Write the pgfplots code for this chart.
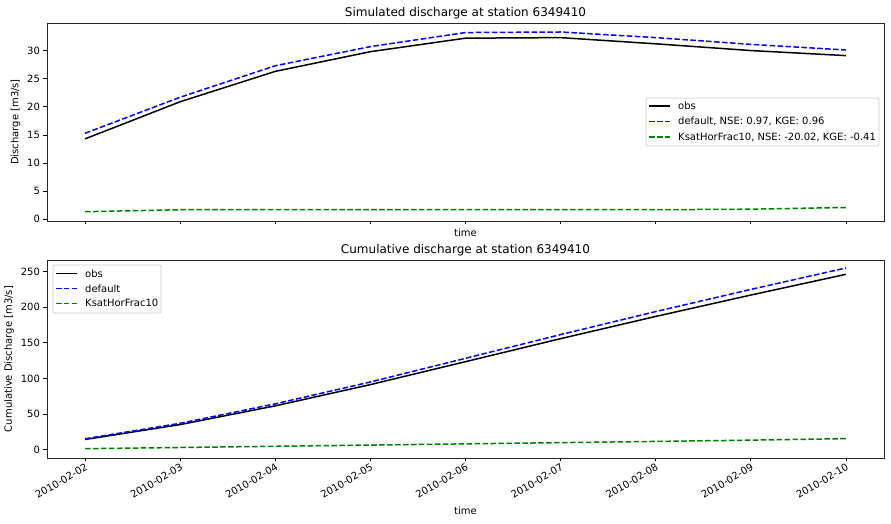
\documentclass[border=0pt]{standalone}
\usepackage{fontspec}
\setmainfont{DejaVu Sans}
\usepackage{pgfplots}
\pgfplotsset{compat=1.18}

\definecolor{mplblue}{rgb}{0,0,1}
\definecolor{mplgreen}{rgb}{0,0.5,0}
\definecolor{legframe}{rgb}{0.8,0.8,0.8}

\tikzset{
  obsline/.style={draw=black, line width=1.5pt, solid},
  defline/.style={draw=mplblue, line width=1.5pt, dash pattern=on 5.55pt off 2.4pt},
  ksatline/.style={draw=mplgreen, line width=1.5pt, dash pattern=on 5.55pt off 2.4pt},
  legtext/.style={anchor=west, inner sep=0pt, font=\fontsize{10}{12}\selectfont},
  legbox/.style={draw=legframe, fill=white, line width=0.8pt, rounded corners=2pt},
}

\pgfplotsset{
  discharge/.style={
    scale only axis, width=837pt, height=198pt,
    xmin=-0.4, xmax=8.4,
    xtick={0,...,8},
    tick align=outside, major tick length=3.5pt,
    xtick pos=lower, ytick pos=left,
    tick style={black, line width=0.8pt},
    axis line style={line width=0.8pt, black!85},
    /pgf/number format/assume math mode=true,
    ticklabel style={font=\fontsize{10}{12}\selectfont},
    label style={font=\fontsize{10}{12}\selectfont},
    title style={font=\fontsize{12}{14}\selectfont, yshift=-6pt},
    ylabel near ticks,
  },
}

\begin{document}
\begin{tikzpicture}
\useasboundingbox (-47pt,-66pt) rectangle (844pt,458pt);

% top: daily discharge
\begin{axis}[discharge, at={(0pt,237pt)},
  title={Simulated discharge at station 6349410},
  xlabel={time}, ylabel={Discharge [m3/s]},
  xticklabels={},
  xlabel style={at={(axis description cs:0.5,0)}, anchor=north, yshift=-4pt},
  ymin=-0.3, ymax=34.9, ytick={0,5,...,30}]
\addplot[obsline] coordinates {(0,14.3) (1,20.9) (2,26.3) (3,29.8) (4,32.2) (5,32.3) (6,31.2) (7,30.0) (8,29.1)};
\addplot[defline] coordinates {(0,15.3) (1,21.7) (2,27.3) (3,30.7) (4,33.2) (5,33.3) (6,32.3) (7,31.1) (8,30.1)};
\addplot[ksatline] coordinates {(0,1.35) (1,1.7) (2,1.7) (3,1.7) (4,1.7) (5,1.7) (6,1.7) (7,1.8) (8,2.1)};
\end{axis}

% bottom: cumulative discharge
\begin{axis}[discharge, at={(0pt,0pt)},
  title={Cumulative discharge at station 6349410},
  xlabel={time}, ylabel={Cumulative Discharge [m3/s]},
  xlabel style={yshift=-3pt},
  xticklabels={2010-02-02,2010-02-03,2010-02-04,2010-02-05,2010-02-06,2010-02-07,2010-02-08,2010-02-09,2010-02-10},
  xticklabel style={rotate=30, anchor=north east, inner sep=1pt},
  ymin=-11.7, ymax=266.2, ytick={0,50,...,250}]
\addplot[obsline] coordinates {(0,14.3) (1,35.2) (2,61.5) (3,91.3) (4,123.5) (5,155.8) (6,187.0) (7,217.0) (8,246.1)};
\addplot[defline] coordinates {(0,15.3) (1,37.0) (2,64.3) (3,95.0) (4,128.2) (5,161.5) (6,193.8) (7,224.9) (8,255.0)};
\addplot[ksatline] coordinates {(0,1.35) (1,3.05) (2,4.75) (3,6.45) (4,8.15) (5,9.85) (6,11.55) (7,13.35) (8,15.45)};
\end{axis}

% legends, drawn by hand (pgfplots' legend matrix lost the line styles here)
% top legend, centre right of the upper panel
\draw[legbox] (599pt,312pt) rectangle (832pt,360pt);
\draw[obsline]  (602pt,352pt) -- (623pt,352pt);
\draw[defline]  (602pt,336.5pt) -- (623pt,336.5pt);
\draw[ksatline] (602pt,321pt) -- (623pt,321pt);
\node[legtext] at (631pt,352pt) {obs};
\node[legtext] at (631pt,336.5pt) {default, NSE: 0.97, KGE: 0.96};
\node[legtext] at (631pt,321pt) {KsatHorFrac10, NSE: -20.02, KGE: -0.41};
% bottom legend, upper left of the lower panel
\draw[legbox] (6pt,145pt) rectangle (114pt,193pt);
\draw[obsline]  (9pt,184.7pt) -- (30pt,184.7pt);
\draw[defline]  (9pt,169.7pt) -- (30pt,169.7pt);
\draw[ksatline] (9pt,154.7pt) -- (30pt,154.7pt);
\node[legtext] at (38pt,184.7pt) {obs};
\node[legtext] at (38pt,169.7pt) {default};
\node[legtext] at (38pt,154.7pt) {KsatHorFrac10};
\end{tikzpicture}
\end{document}
